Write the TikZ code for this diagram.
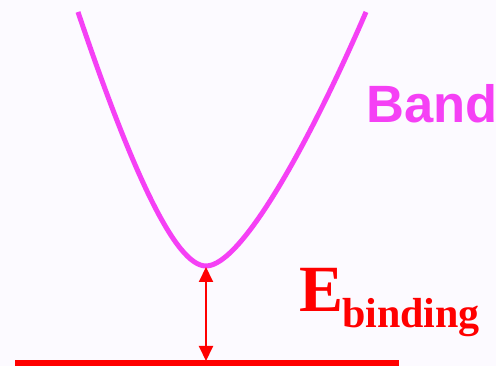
\documentclass[tikz,border=0pt]{standalone}
\usepackage{fontspec}
\setmainfont{Liberation Serif}
\newfontfamily\arialfont{Liberation Sans}
\usetikzlibrary{arrows.meta}
\definecolor{bgc}{RGB}{252,250,255}
\definecolor{bandc}{RGB}{245,64,245}
\definecolor{redc}{RGB}{255,0,0}
\tikzset{
  bandcurve/.style={draw=bandc, line width=5pt},
  gapline/.style={draw=redc, line width=2pt, {Triangle[length=15pt,width=14pt]}-{Triangle[length=15pt,width=14pt]}},
  levelline/.style={draw=redc, line width=6pt},
}
\begin{document}
\begin{tikzpicture}[x=1pt,y=1pt]
\fill[bgc] (0,0) rectangle (496,366);
\useasboundingbox (0,0) rectangle (496,366);
% coordinates: y' = 366 - y
\coordinate (bot) at (206,100);
\coordinate (ltop) at (78,354);
\coordinate (rtop) at (366,354);
\coordinate (lvl) at (206,5);
\coordinate (lvlL) at (15,3);
\coordinate (lvlR) at (399,3);
\draw[bandcurve] (ltop) .. controls (133,191) and (176,100) .. (bot)
                        .. controls (241,100) and (309,222) .. (rtop);
\draw[levelline] (lvlL) -- (lvlR);
\draw[gapline] ([yshift=-1pt]bot) -- (lvl);
\node[anchor=base west, inner sep=0pt, text=bandc, font=\arialfont\bfseries\fontsize{52.5}{52.5}\selectfont] (band) at (366,243) {Band};
\node[anchor=base west, inner sep=0pt, text=redc, font=\bfseries\fontsize{66}{66}\selectfont] (E) at (299,54) {E};
\node[anchor=base west, inner sep=0pt, text=redc, font=\bfseries\fontsize{42}{42}\selectfont] (binding) at (342,38) {binding};
\end{tikzpicture}
\end{document}
